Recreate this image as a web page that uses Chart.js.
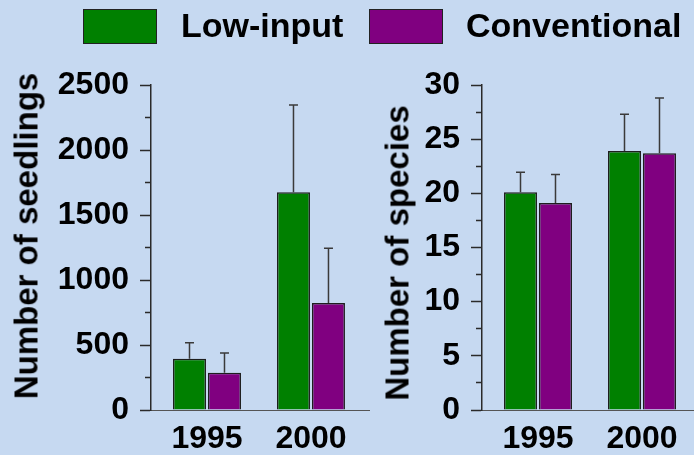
<!DOCTYPE html>
<html><head><meta charset="utf-8">
<script src="https://cdn.jsdelivr.net/npm/chart.js@4.4.1/dist/chart.umd.min.js"></script>
<style>
html,body{margin:0;padding:0;background:#c6d9f1;overflow:hidden;}
#wrap{position:relative;width:694px;height:455px;overflow:hidden;background:#c6d9f1;font-family:"Liberation Sans",Arial,sans-serif;font-weight:bold;color:#000;}
canvas{position:absolute;top:0;}
#c1{left:0;}
#c2{left:380px;}
.lg-box{position:absolute;top:9px;width:72px;height:33px;border:1px solid #222;}
.lg-text{position:absolute;top:8px;font-size:34px;line-height:34px;white-space:nowrap;}
.ytitle{position:absolute;font-size:33px;line-height:33px;white-space:nowrap;transform:translate(-50%,-50%) rotate(-90deg);}
</style></head>
<body><div id="wrap">
<canvas id="c1" width="380" height="455"></canvas>
<canvas id="c2" width="330" height="455"></canvas>
<div id="legend"></div>
<div class="ytitle" id="t1" style="left:25.6px;top:236px"></div>
<div class="ytitle" id="t2" style="left:396.6px;top:252.5px"></div>
</div>
<script>
const years = ['1995', '2000'];
const seriesNames = ['Low-input', 'Conventional'];
const seriesColors = ['#008000', '#800080'];
const seedlingsLow = [395, 1675];
const seedlingsConv = [287, 823];
const seedlingsErrLow = [123, 671];
const seedlingsErrConv = [151, 421];
const speciesLow = [20.1, 23.9];
const speciesConv = [19.1, 23.7];
const speciesErrLow = [1.85, 3.4];
const speciesErrConv = [2.65, 5.1];
const yTitles = ['Number of seedlings', 'Number of species'];

const FAMILY = '"Liberation Sans", Arial, sans-serif';
Chart.defaults.font.family = FAMILY;

// legend (HTML text)
const lg = document.getElementById('legend');
const boxLeft = [83, 369], textLeft = [181, 466];
seriesNames.forEach((n, i) => {
  const b = document.createElement('div'); b.className = 'lg-box';
  b.style.left = boxLeft[i] + 'px'; b.style.background = seriesColors[i]; lg.appendChild(b);
  const t = document.createElement('div'); t.className = 'lg-text';
  t.style.left = textLeft[i] + 'px'; t.textContent = n; lg.appendChild(t);
});
document.getElementById('t1').textContent = yTitles[0];
document.getElementById('t2').textContent = yTitles[1];

const errorBars = {
  id: 'errorBars',
  afterDatasetsDraw(chart) {
    const ctx = chart.ctx, ys = chart.scales.y;
    chart.data.datasets.forEach((ds, i) => {
      const meta = chart.getDatasetMeta(i);
      meta.data.forEach((bar, j) => {
        const v = ds.data[j].y, e = ds.errors[j];
        const yTop = ys.getPixelForValue(v + e);
        const yBase = ys.getPixelForValue(v);
        ctx.save();
        ctx.strokeStyle = '#3a3a3a'; ctx.lineWidth = 1.5;
        ctx.beginPath();
        ctx.moveTo(bar.x, yBase); ctx.lineTo(bar.x, yTop);
        ctx.moveTo(bar.x - 4.5, yTop); ctx.lineTo(bar.x + 4.5, yTop);
        ctx.stroke();
        ctx.restore();
      });
    });
  }
};

function makeChart(id, low, conv, errLow, errConv, yMax, yStep, major, yWidth, xMax, padRight) {
  const isMajor = v => Math.abs(v / major - Math.round(v / major)) < 1e-6;
  const mk = (vals, errs, k) => ({
    label: seriesNames[k],
    data: vals.map((v, i) => ({ x: i + 1, y: v })),
    errors: errs,
    backgroundColor: seriesColors[k],
    borderColor: '#1e1e1e',
    borderWidth: 1.5,
    categoryPercentage: 70 / 104,
    barPercentage: 33 / 35
  });
  return new Chart(document.getElementById(id), {
    type: 'bar',
    data: { datasets: [mk(low, errLow, 0), mk(conv, errConv, 1)] },
    options: {
      responsive: false, animation: false, devicePixelRatio: 1,
      layout: { padding: { top: 85, right: padRight, bottom: 0, left: 0 } },
      plugins: { legend: { display: false }, tooltip: { enabled: false } },
      scales: {
        x: {
          type: 'linear', min: 0.4615, max: xMax, offset: false,
          afterFit: s => { s.height = 45; },
          border: { display: true, color: '#555', width: 1 },
          grid: { display: false, drawTicks: false },
          ticks: {
            stepSize: 1, includeBounds: false, autoSkip: false, maxRotation: 0, padding: 10,
            color: '#000', font: { family: FAMILY, size: 32, weight: 'bold' },
            callback: v => years[Math.round(v) - 1] ?? ''
          }
        },
        y: {
          min: 0, max: yMax,
          afterFit: s => { s.width = yWidth; },
          border: { display: true, color: '#2a2a2a', width: 1.5 },
          grid: {
            drawOnChartArea: false, drawTicks: true, tickLength: 11,
            tickColor: '#2a2a2a', tickWidth: 1.5,
            tickBorderDash: c => (c.tick && !isMajor(c.tick.value)) ? [0, 5, 6, 40] : []
          },
          ticks: {
            stepSize: yStep, autoSkip: false, padding: 11,
            color: '#000', font: { family: FAMILY, size: 32, weight: 'bold' },
            callback: v => isMajor(v) ? String(v) : ''
          }
        }
      }
    },
    plugins: [errorBars]
  });
}

makeChart('c1', seedlingsLow, seedlingsConv, seedlingsErrLow, seedlingsErrConv, 2500, 250, 500, 151, 2.558, 11);
makeChart('c2', speciesLow, speciesConv, speciesErrLow, speciesErrConv, 30, 2.5, 5, 102, 2.577, 8);
</script>
</body></html>
